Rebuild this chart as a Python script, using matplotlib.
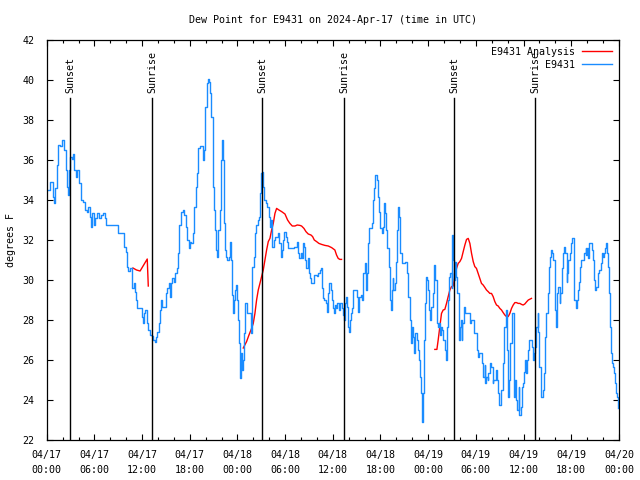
import matplotlib
matplotlib.use("Agg")
import matplotlib.pyplot as plt
from matplotlib.lines import Line2D

# hours since 2024-04-17 00:00 UTC
obs_hours = [
    0.21, 0.42, 0.71, 0.83, 0.96, 1.09, 1.25, 1.46, 1.72, 1.97, 2.22, 2.43, 2.60, 2.72, 2.85, 2.97,
    3.14, 3.27, 3.39, 3.64, 3.85, 4.11, 4.31, 4.61, 4.82, 5.07, 5.24, 5.40, 5.53, 5.70, 5.91, 6.08,
    6.33, 6.58, 6.83, 7.12, 7.33, 7.50, 8.17, 8.80, 9.01, 9.56, 9.72, 9.93, 10.14, 10.27, 10.48,
    10.69, 10.77, 10.94, 11.11, 11.28, 11.36, 11.74, 11.95, 12.07, 12.20, 12.37,
    12.58, 12.78, 12.99, 13.20, 13.41, 13.58, 13.75, 13.92, 14.13, 14.25, 14.38, 14.55, 14.80,
    15.01, 15.17, 15.38, 15.51, 15.64, 15.80, 15.97, 16.18, 16.35, 16.56, 16.68, 16.85, 17.10,
    17.31, 17.52, 17.69, 17.86, 17.98, 18.15, 18.36, 18.57, 18.78, 18.95, 19.07, 19.28, 19.58,
    19.70, 19.83, 19.95, 20.12, 20.29, 20.42, 20.54, 20.71, 20.88, 21.04, 21.17, 21.30, 21.42,
    21.59, 21.76, 21.88, 22.01, 22.14, 22.26, 22.43, 22.55, 22.72, 22.93, 23.06, 23.18, 23.27,
    23.39, 23.56, 23.73, 23.85, 23.98, 24.11, 24.23,
    24.32, 24.44, 24.61, 24.73, 24.86, 24.99, 25.15, 25.36, 25.57, 25.66, 25.78, 25.87, 26.03,
    26.20, 26.37, 26.54, 26.71, 26.83, 26.96, 27.04, 27.17, 27.29, 27.54, 27.75, 27.96, 28.09,
    28.21, 28.38, 28.55, 28.72, 28.93, 29.14, 29.26, 29.43, 29.56, 29.72, 29.89, 30.06, 30.19,
    30.31, 30.52, 30.81, 31.15, 31.44, 31.57, 31.74, 31.95, 32.07, 32.20, 32.32, 32.49, 32.66,
    32.83, 32.99, 33.16, 33.29, 33.41, 33.67, 33.79, 34.00, 34.17, 34.38, 34.50, 34.67, 34.80,
    34.92, 35.09, 35.26, 35.38, 35.55, 35.72, 35.85, 35.97, 36.10, 36.27,
    36.39, 36.56, 36.73, 36.94, 37.10, 37.23, 37.35, 37.48, 37.61, 37.73, 37.86, 37.98, 38.11,
    38.24, 38.40, 38.57, 38.78, 38.99, 39.16, 39.33, 39.49, 39.66, 39.83, 40.00, 40.12, 40.25,
    40.37, 40.50, 40.67, 40.88, 41.00, 41.17, 41.34, 41.51, 41.63, 41.80, 41.92, 42.13, 42.26,
    42.43, 42.55, 42.68, 42.85, 43.02, 43.18, 43.31, 43.39, 43.52, 43.60, 43.77, 43.94, 44.11,
    44.23, 44.36, 44.48, 44.65, 44.82, 45.07, 45.36, 45.49, 45.66, 45.78, 45.91, 46.08, 46.20,
    46.37, 46.54, 46.70, 46.83, 46.96, 47.08, 47.21, 47.33, 47.46, 47.59, 47.71, 47.84, 47.96,
    48.13,
    48.26, 48.42, 48.59, 48.72, 48.89, 49.05, 49.18, 49.35, 49.47, 49.60, 49.77, 49.93, 50.10,
    50.27, 50.35, 50.52, 50.65, 50.77, 50.94, 51.02, 51.15, 51.28, 51.36, 51.48, 51.65, 51.82,
    51.95, 52.07, 52.20, 52.32, 52.45, 52.58, 52.74, 52.91, 53.08, 53.25, 53.37, 53.50, 53.71,
    53.83, 54.00, 54.17, 54.29, 54.42, 54.54, 54.75, 54.92, 55.09, 55.21, 55.34, 55.47, 55.59,
    55.76, 55.93, 56.10, 56.22, 56.35, 56.51, 56.64, 56.77, 56.89, 56.98, 57.19, 57.35, 57.48,
    57.60, 57.77, 57.94, 58.07, 58.23, 58.36, 58.53, 58.74, 58.86, 58.99, 59.11, 59.24, 59.37,
    59.49, 59.62, 59.79, 59.95, 60.08, 60.20,
    60.29, 60.42, 60.58, 60.71, 60.88, 61.04, 61.21, 61.34, 61.46, 61.63, 61.76, 61.88, 62.01,
    62.14, 62.26, 62.39, 62.55, 62.72, 62.89, 63.06, 63.18, 63.31, 63.48, 63.60, 63.73, 63.90,
    64.02, 64.15, 64.27, 64.40, 64.53, 64.65, 64.78, 64.90, 65.03, 65.15, 65.28, 65.41, 65.53,
    65.66, 65.78, 65.91, 66.03, 66.16, 66.29, 66.41, 66.58, 66.71, 66.83, 66.96, 67.12, 67.29,
    67.46, 67.63, 67.80, 67.92, 68.05, 68.17, 68.30, 68.42, 68.63, 68.76, 68.93, 69.05, 69.18,
    69.31, 69.43, 69.56, 69.72, 69.85, 69.98, 70.14, 70.27, 70.40, 70.52, 70.65, 70.73, 70.86,
    70.98, 71.11, 71.28, 71.44, 71.57, 71.70, 71.82, 71.95,
]
obs_dewpt = [
    34.50, 34.92, 34.92, 34.17, 33.83, 34.58, 35.75, 36.75, 36.70, 37.00, 36.50, 35.50, 34.67, 34.25, 35.50, 36.17,
    36.03, 36.30, 35.50, 35.17, 35.50, 34.83, 34.00, 33.92, 33.50, 33.42, 33.67, 33.17, 32.67, 33.33, 32.75, 33.08,
    33.33, 33.08, 33.25, 33.33, 33.08, 32.75, 32.75, 32.75, 32.37, 32.37, 31.67, 31.38, 30.67, 30.47, 30.58,
    30.33, 29.58, 29.83, 29.42, 29.00, 28.58, 28.58, 28.17, 27.83, 28.33, 28.50,
    27.83, 27.50, 27.25, 27.20, 27.00, 26.92, 27.17, 27.42, 27.83, 28.50, 29.00, 28.67, 28.67,
    29.33, 29.58, 29.83, 29.17, 29.83, 30.08, 29.92, 30.33, 30.58, 31.33, 32.75, 33.42, 33.50,
    33.25, 32.67, 32.00, 31.58, 31.92, 31.83, 32.33, 33.67, 34.67, 35.33, 36.58, 36.70, 36.70,
    36.00, 36.50, 38.67, 39.83, 40.03, 39.92, 39.33, 38.17, 34.67, 33.50, 32.50, 31.50, 31.17,
    32.50, 33.50, 36.00, 37.00, 36.00, 32.83, 31.50, 31.17, 31.00, 31.17, 31.92, 31.00, 29.25,
    28.33, 29.00, 29.50, 29.75, 29.00, 28.00, 26.83,
    25.08, 26.33, 25.50, 26.00, 27.33, 28.83, 28.33, 28.33, 28.33, 27.33, 27.67, 30.67, 31.17,
    32.33, 32.75, 33.00, 33.17, 34.33, 35.33, 35.42, 34.67, 34.00, 33.83, 33.67, 33.17, 32.67,
    33.00, 31.67, 32.00, 32.17, 32.17, 32.33, 31.83, 31.17, 31.50, 32.00, 32.42, 32.17, 31.92,
    31.58, 31.58, 31.58, 31.67, 31.92, 31.33, 31.08, 31.33, 31.08, 31.83, 31.67, 31.00, 30.58,
    31.08, 30.33, 30.08, 29.83, 29.83, 30.25, 30.25, 30.20, 30.33, 30.50, 30.58, 29.58, 29.08,
    29.00, 28.83, 28.42, 29.33, 29.83, 29.50, 29.00, 28.58, 28.33,
    28.75, 28.58, 28.83, 28.50, 28.83, 28.58, 28.25, 28.00, 28.83, 29.17, 28.67, 27.67, 27.42,
    28.00, 28.33, 28.58, 29.50, 29.50, 29.17, 28.42, 29.17, 29.25, 29.00, 30.33, 30.83, 29.50,
    30.33, 31.83, 32.58, 32.58, 32.83, 34.00, 34.58, 35.25, 35.00, 34.17, 33.42, 32.58, 32.33,
    32.67, 33.83, 33.33, 32.50, 31.58, 30.67, 29.00, 28.50, 29.50, 30.08, 29.50, 29.83, 30.92,
    32.50, 33.67, 33.17, 31.33, 30.83, 30.83, 30.92, 30.33, 29.17, 28.00, 26.83, 27.67, 27.17,
    26.33, 27.33, 27.00, 26.50, 26.00, 25.17, 24.33, 22.92, 24.33, 27.00, 28.83, 30.17, 30.00,
    29.50,
    28.50, 28.00, 28.67, 29.33, 30.75, 30.00, 27.83, 27.67, 27.83, 27.25, 27.67, 27.50, 27.00,
    26.50, 26.00, 27.67, 29.00, 30.17, 30.33, 29.58, 32.25, 31.00, 30.00, 30.92, 30.17, 29.33,
    27.00, 27.67, 28.00, 27.00, 27.83, 28.67, 28.33, 28.33, 28.33, 28.33, 27.83, 28.00, 28.00,
    27.50, 27.33, 27.33, 26.50, 26.17, 26.33, 26.33, 25.83, 25.17, 25.75, 24.83, 25.17, 25.00,
    25.33, 25.83, 25.67, 24.83, 25.00, 25.00, 25.50, 25.00, 24.33, 23.75, 23.75, 24.50, 24.50,
    25.83, 27.67, 28.50, 26.50, 24.17, 25.00, 26.83, 28.33, 27.17, 24.17, 25.00, 24.00, 23.50,
    24.67, 23.25, 23.67, 24.67, 24.83, 25.42,
    26.00, 25.33, 26.00, 26.50, 27.00, 27.00, 26.67, 26.00, 26.33, 26.67, 27.67, 28.33, 27.42,
    25.67, 24.67, 24.17, 24.50, 25.33, 27.17, 28.33, 29.33, 30.67, 31.17, 31.50, 31.33, 31.00,
    30.00, 28.50, 27.67, 29.33, 29.67, 28.83, 29.33, 30.00, 30.58, 31.33, 31.67, 31.33, 29.92,
    30.33, 31.00, 31.00, 31.33, 31.83, 32.08, 30.33, 29.00, 28.58, 29.00, 29.50, 29.92, 30.67,
    31.00, 31.00, 31.33, 31.58, 31.25, 31.58, 31.08, 31.83, 31.83, 31.50, 31.00, 30.00, 29.50,
    29.67, 30.17, 30.33, 30.50, 30.83, 31.33, 31.17, 31.33, 31.58, 31.83, 31.33, 30.67, 29.33,
    27.67, 26.33, 25.83, 25.67, 25.33, 24.83, 24.33, 24.17, 23.58,
]

# analysis series, three separate pieces
ana_hours_1 = [10.85, 11.30, 11.75, 12.20, 12.65, 12.78]
ana_dewpt_1 = [30.60, 30.50, 30.45, 30.75, 31.05, 29.70]
ana_hours_2 = [24.73, 25.15, 25.45, 25.78, 25.99, 26.20, 26.41, 26.62, 26.83, 27.04, 27.25, 27.46,
               27.67, 27.88, 28.09, 28.30, 28.51, 28.72, 28.93, 29.22, 29.56, 29.98, 30.31, 30.60,
               30.90, 31.23, 31.53, 31.86, 32.07, 32.37, 32.62, 32.91, 33.25, 33.46, 33.67, 33.96,
               34.25, 34.59, 35.01, 35.43, 35.85, 36.26, 36.47, 36.68, 36.89, 37.10]
ana_dewpt_2 = [26.60, 26.92, 27.25, 27.58, 27.83, 28.33, 29.00, 29.50, 29.83, 30.17, 30.50, 31.00,
               31.50, 31.92, 32.08, 32.50, 32.83, 33.33, 33.58, 33.50, 33.42, 33.30, 33.00, 32.83,
               32.70, 32.70, 32.75, 32.73, 32.70, 32.58, 32.42, 32.30, 32.25, 32.17, 32.00, 31.92,
               31.83, 31.78, 31.73, 31.70, 31.62, 31.50, 31.25, 31.08, 31.03, 31.03]
ana_hours_3 = [48.84, 49.10, 49.26, 49.47, 49.68, 49.89, 50.10, 50.31, 50.52, 50.73, 50.94, 51.15,
               51.36, 51.57, 51.78, 51.99, 52.20, 52.41, 52.62, 52.83, 53.04, 53.25, 53.46, 53.67,
               53.87, 54.08, 54.29, 54.50, 54.71, 54.92, 55.13, 55.34, 55.55, 55.76, 55.97, 56.18,
               56.39, 56.60, 56.81, 57.02, 57.23, 57.44, 57.65, 57.86, 58.07, 58.28, 58.49, 58.70,
               58.91, 59.12, 59.33, 59.54, 59.75, 59.95, 60.16, 60.37, 60.60, 61.00]
ana_dewpt_3 = [26.53, 26.53, 27.00, 27.67, 28.33, 28.50, 28.53, 28.83, 29.17, 29.50, 29.67, 29.70,
               30.17, 30.58, 30.83, 30.92, 31.08, 31.42, 31.75, 32.03, 32.08, 31.83, 31.33, 30.92,
               30.67, 30.58, 30.33, 30.08, 29.83, 29.75, 29.63, 29.50, 29.42, 29.33, 29.33, 29.17,
               28.92, 28.75, 28.70, 28.58, 28.50, 28.37, 28.25, 28.17, 28.17, 28.33, 28.58, 28.75,
               28.87, 28.87, 28.83, 28.83, 28.78, 28.75, 28.80, 28.90, 29.00, 29.08]

sun_hours = [2.93, 13.28, 27.10, 37.45, 51.27, 61.45]
sun_labels = ["Sunset", "Sunrise", "Sunset", "Sunrise", "Sunset", "Sunrise"]

tick_hours = [0, 6, 12, 18, 24, 30, 36, 42, 48, 54, 60, 66, 72]
tick_labels = ["04/17\n00:00", "04/17\n06:00", "04/17\n12:00", "04/17\n18:00",
               "04/18\n00:00", "04/18\n06:00", "04/18\n12:00", "04/18\n18:00",
               "04/19\n00:00", "04/19\n06:00", "04/19\n12:00", "04/19\n18:00",
               "04/20\n00:00"]

plt.rcParams['font.family'] = ['DejaVu Sans Mono']
fs = 7.2
red = '#ff0000'
blue = '#1a8cff'

fig = plt.figure(figsize=(6.4, 4.8), dpi=100)
ax = fig.add_axes([0.073, 0.0833, 0.894, 0.8334])

ax.plot(ana_hours_1, ana_dewpt_1, color=red, lw=1.0)
ax.plot(ana_hours_2, ana_dewpt_2, color=red, lw=1.0)
ax.plot(ana_hours_3, ana_dewpt_3, color=red, lw=1.0)
ax.plot(obs_hours, obs_dewpt, color=blue, lw=1.0, drawstyle='steps-post')

for h, lab in zip(sun_hours, sun_labels):
    ax.plot([h, h], [22, 39.1], color='black', lw=1.0)
    ax.text(h, 39.35, lab, rotation=90, ha='center', va='bottom', fontsize=fs)

ax.set_xlim(0, 72)
ax.set_ylim(22, 42)
ax.set_xticks(tick_hours)
ax.set_xticklabels(tick_labels, fontsize=fs, linespacing=1.6)
ax.set_xticks(range(0, 73, 2), minor=True)
ax.set_yticks(range(22, 43, 2))
ax.tick_params(axis='y', labelsize=fs)
ax.tick_params(which='both', direction='in', top=True, right=True, width=0.8)
ax.tick_params(which='major', length=4)
ax.tick_params(which='minor', length=2.2)
ax.tick_params(axis='x', pad=7)
ax.tick_params(axis='y', pad=9)
for s in ax.spines.values():
    s.set_linewidth(0.9)

ax.set_ylabel("degrees F", fontsize=fs, labelpad=4.5)
ax.set_title("Dew Point for E9431 on 2024-Apr-17 (time in UTC)", fontsize=fs, pad=12.5)

handles = [Line2D([], [], color=red, lw=1.0), Line2D([], [], color=blue, lw=1.0)]
ax.legend(handles, ["E9431 Analysis", "E9431"], loc='upper right', frameon=False,
          markerfirst=False, fontsize=fs, handlelength=3.0, handletextpad=0.7,
          borderpad=0.3, borderaxespad=0.4, labelspacing=0.3)

fig.savefig("out.png", dpi=100)
